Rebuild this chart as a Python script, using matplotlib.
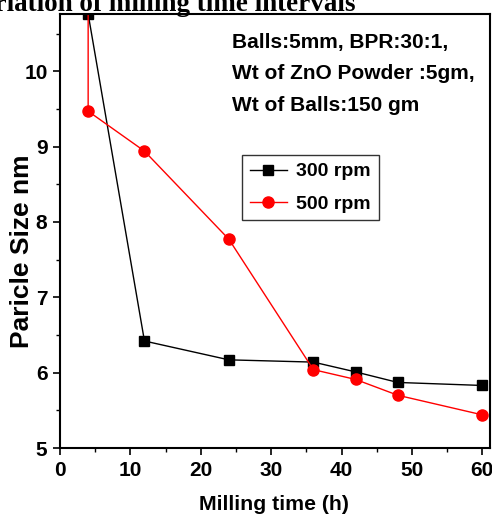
import matplotlib
matplotlib.use("Agg")
import matplotlib.pyplot as plt
from matplotlib.ticker import MultipleLocator

# milling time (h) vs particle size (nm)
time_300 = [4, 12, 24, 36, 42, 48, 60]
size_300 = [10.76, 6.42, 6.17, 6.14, 6.01, 5.87, 5.83]

# first 500 rpm point sits above the visible range at 4 h
time_500 = [4, 4, 12, 24, 36, 42, 48, 60]
size_500 = [11.5, 9.47, 8.94, 7.77, 6.04, 5.91, 5.70, 5.44]

notes = ["Balls:5mm, BPR:30:1,", "Wt of ZnO Powder :5gm,", "Wt of Balls:150 gm"]

plt.rcParams['font.family'] = ['Liberation Sans', 'DejaVu Sans']
plt.rcParams['font.weight'] = 'bold'

W, H = 492, 515
fig = plt.figure(figsize=(W / 100, H / 100), dpi=100)
ax = fig.add_axes([60/W, 1 - 448/H, 430/W, 434/H])

ax.plot(time_300, size_300, color='black', lw=1, marker='s', ms=6.5,
        label='300 rpm')
ax.plot(time_500, size_500, color='red', lw=1, marker='o', ms=8,
        label='500 rpm')

ax.set_xlim(0, 61.1)
ax.set_ylim(5, 10.76)
ax.xaxis.set_major_locator(MultipleLocator(10))
ax.xaxis.set_minor_locator(MultipleLocator(5))
ax.yaxis.set_major_locator(MultipleLocator(1))
ax.yaxis.set_minor_locator(MultipleLocator(0.5))
ax.tick_params(which='major', direction='out', length=5, width=1.2,
               labelsize=15, pad=4)
ax.tick_params(which='minor', direction='out', length=3, width=1)
for lab in ax.get_xticklabels() + ax.get_yticklabels():
    lab.set_fontweight('bold')
for s in ax.spines.values():
    s.set_linewidth(1.5)

# axis titles placed by hand to sit where the original has them
fig.text(274/W, 1 - 510/H, 'Milling time (h)', ha='center', va='baseline',
         fontsize=15.3, fontweight='bold')
fig.text(22/W, 1 - 251/H, 'Paricle Size nm', rotation=90, ha='center',
         va='center', fontsize=19, fontweight='bold')

for i, t in enumerate(notes):
    fig.text(232/W, 1 - (48 + i * 31.3)/H, t, fontsize=15, fontweight='bold')

leg = ax.legend(loc='upper left', bbox_to_anchor=(182/430, 1 - 141/434),
                fontsize=14, frameon=True, fancybox=False, edgecolor='black',
                handlelength=1.9, borderpad=0.4, labelspacing=0.75,
                handletextpad=0.5, borderaxespad=0)
leg.get_frame().set_linewidth(1)

fig.text(355/W, 1 - 11/H, 'Variation of milling time intervals',
         ha='right', va='baseline', fontsize=19.5, fontweight='bold',
         family=['Liberation Serif', 'DejaVu Serif'])

fig.savefig('out.png', dpi=100)
